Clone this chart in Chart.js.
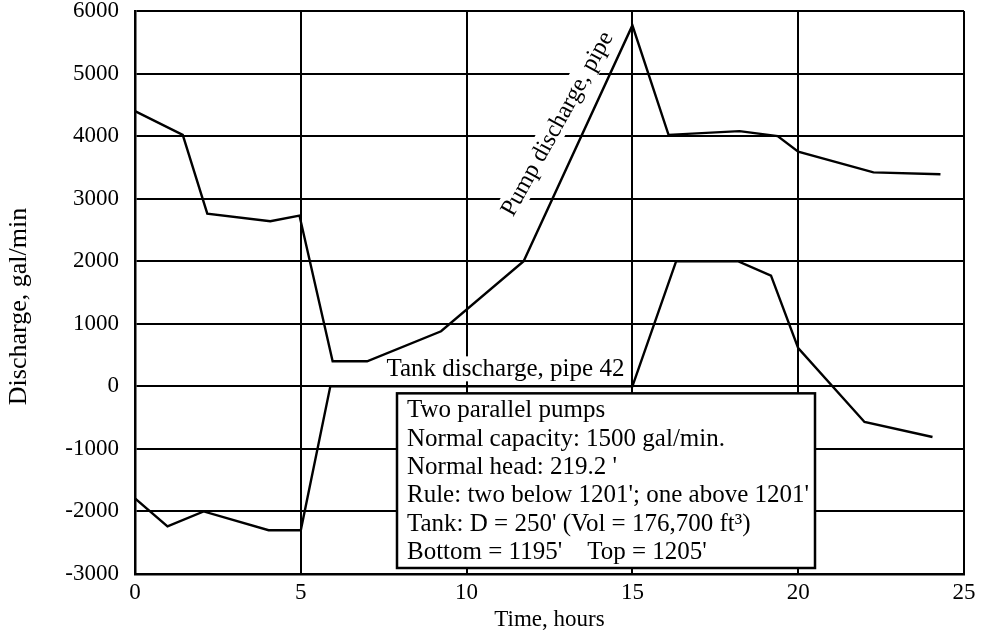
<!DOCTYPE html>
<html>
<head>
<meta charset="utf-8">
<script src="https://cdn.jsdelivr.net/npm/chart.js@4.4.1/dist/chart.umd.min.js"></script>
<style>
  html, body { margin: 0; padding: 0; background: #fff; }
  canvas { display: block; }
</style>
</head>
<body>
<canvas id="chartDischarge" width="986" height="635"></canvas>
<script>
// pump discharge, pipe (gal/min) against time (hours)
const pumpHours = [0, 1.44, 2.18, 4.08, 4.96, 5.96, 7.0, 9.23, 11.72, 15.0, 16.09, 18.23, 19.38, 20.0, 22.27, 24.29];
const pumpFlow = [4400, 4020, 2760, 2640, 2730, 400, 400, 880, 2000, 5770, 4020, 4080, 4000, 3750, 3420, 3390];

// tank discharge, pipe 42
const tankHours = [0, 0.98, 2.07, 4.03, 5.0, 5.89, 15.0, 16.32, 18.18, 19.18, 20.0, 22.0, 24.05];
const tankFlow = [-1790, -2240, -2000, -2300, -2300, 0, 0, 2000, 2000, 1770, 610, -570, -810];

const xTicks = [0, 5, 10, 15, 20, 25];
const yTicks = [-3000, -2000, -1000, 0, 1000, 2000, 3000, 4000, 5000, 6000];

const noteLines = [
	'Two parallel pumps',
	'Normal capacity: 1500 gal/min.',
	"Normal head: 219.2 '",
	"Rule: two below 1201'; one above 1201'",
	"Tank: D = 250' (Vol = 176,700 ft\u00B3)",
	"Bottom = 1195'    Top = 1205'"
];

const serif = '"Liberation Serif", "Times New Roman", Times, serif';

function toPoints(xs, ys) {
	return xs.map((x, i) => ({ x: x, y: ys[i] }));
}

// labels and the note box sit over the grid but under the lines
const notesPlugin = {
	id: 'notes',
	beforeDatasetsDraw(chart) {
		const ctx = chart.ctx;
		const xs = chart.scales.x;
		const ys = chart.scales.y;
		const area = chart.chartArea;
		ctx.save();

		// tank label
		ctx.font = '25px ' + serif;
		const tankText = 'Tank discharge, pipe 42';
		const tw = ctx.measureText(tankText).width;
		const tx = xs.getPixelForValue(15) - 8;
		const ty = ys.getPixelForValue(0) - 10;
		ctx.fillStyle = '#fff';
		ctx.fillRect(tx - tw - 3, ty - 20, tw + 6, 25);
		ctx.fillStyle = '#000';
		ctx.textAlign = 'right';
		ctx.textBaseline = 'alphabetic';
		ctx.fillText(tankText, tx, ty);

		// pump label, rotated along the rising line
		ctx.save();
		ctx.font = '24px ' + serif;
		const pumpText = 'Pump discharge, pipe';
		const pw = ctx.measureText(pumpText).width;
		ctx.translate(xs.getPixelForValue(12.72), ys.getPixelForValue(4200));
		ctx.rotate(-61 * Math.PI / 180);
		ctx.fillStyle = '#fff';
		ctx.fillRect(-pw / 2 - 4, -13, pw + 8, 26);
		ctx.fillStyle = '#000';
		ctx.textAlign = 'center';
		ctx.textBaseline = 'middle';
		ctx.fillText(pumpText, 0, 1);
		ctx.restore();

		// note box
		const bx = area.left + 262;
		const by = ys.getPixelForValue(0) + 7;
		const bw = 418;
		const bh = area.bottom - 6 - by;
		ctx.fillStyle = '#fff';
		ctx.fillRect(bx, by, bw, bh);
		ctx.strokeStyle = '#000';
		ctx.lineWidth = 2.5;
		ctx.strokeRect(bx, by, bw, bh);
		ctx.font = '25px ' + serif;
		ctx.fillStyle = '#000';
		ctx.textAlign = 'left';
		ctx.textBaseline = 'alphabetic';
		noteLines.forEach((line, i) => {
			ctx.fillText(line, bx + 10, by + 24 + i * 28.3);
		});

		ctx.restore();
	},
	afterDraw(chart) {
		// y axis title, a bit larger than the rest and set low as in the source
		const ctx = chart.ctx;
		const area = chart.chartArea;
		ctx.save();
		ctx.translate(19, (area.top + area.bottom) / 2 + 14);
		ctx.rotate(-Math.PI / 2);
		ctx.font = '26px ' + serif;
		ctx.fillStyle = '#000';
		ctx.textAlign = 'center';
		ctx.textBaseline = 'middle';
		ctx.fillText('Discharge, gal/min', 0, 0);
		ctx.restore();
	}
};

const lineStyle = {
	borderColor: '#000',
	borderWidth: 2.4,
	pointRadius: 0,
	fill: false,
	tension: 0
};

const config = {
	type: 'line',
	data: {
		datasets: [
			Object.assign({ label: 'Pump discharge, pipe', data: toPoints(pumpHours, pumpFlow) }, lineStyle),
			Object.assign({ label: 'Tank discharge, pipe 42', data: toPoints(tankHours, tankFlow) }, lineStyle)
		]
	},
	options: {
		responsive: false,
		animation: false,
		layout: { padding: { top: 11, right: 22, left: 0, bottom: 0 } },
		plugins: {
			legend: { display: false },
			tooltip: { enabled: false }
		},
		scales: {
			x: {
				type: 'linear',
				min: 0,
				max: 25,
				afterBuildTicks: scale => { scale.ticks = xTicks.map(v => ({ value: v })); },
				afterFit: scale => { scale.height = 61; },
				grid: { color: '#000', lineWidth: 2, drawTicks: false },
				border: { display: true, color: '#000', width: 2.5 },
				ticks: {
					color: '#000',
					padding: 5,
					maxRotation: 0,
					font: { family: serif, size: 23 },
					callback: v => String(v)
				},
				title: {
					display: true,
					text: 'Time, hours',
					color: '#000',
					font: { family: serif, size: 23 },
					padding: { top: 0, bottom: 1 }
				}
			},
			y: {
				type: 'linear',
				min: -3000,
				max: 6000,
				afterBuildTicks: scale => { scale.ticks = yTicks.map(v => ({ value: v })); },
				afterFit: scale => {
					scale.width = 135;
					scale.paddingTop = 0;
					scale.paddingBottom = 0;
				},
				grid: { color: '#000', lineWidth: 2, drawTicks: false },
				border: { display: true, color: '#000', width: 2.5 },
				ticks: {
					color: '#000',
					padding: 16,
					font: { family: serif, size: 23 },
					callback: v => String(v)
				},
				title: { display: false }
			}
		}
	},
	plugins: [notesPlugin]
};

const ctxDischarge = document.getElementById('chartDischarge').getContext('2d');
window.dischargeChart = new Chart(ctxDischarge, config);
</script>
</body>
</html>
